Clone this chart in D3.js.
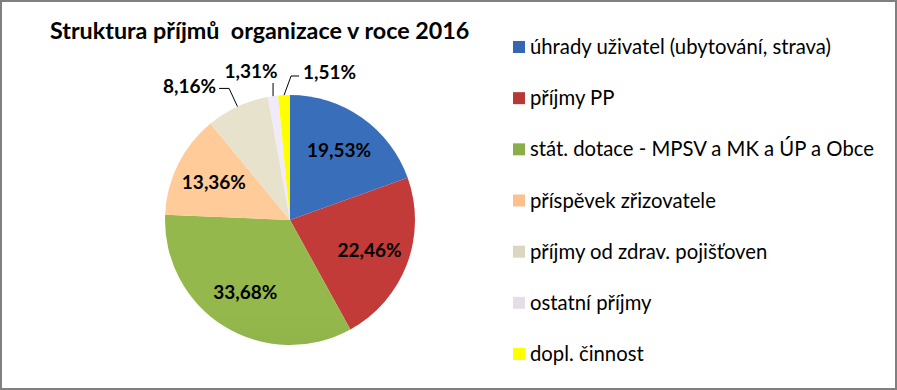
<!DOCTYPE html>
<html>
<head>
<meta charset="utf-8">
<script src="https://cdn.jsdelivr.net/npm/d3@7"></script>
<style>
  html, body { margin: 0; padding: 0; background: #fff; }
  svg { display: block; font-family: Lato, "Open Sans", sans-serif; }
</style>
</head>
<body>
<div id="chart"></div>
<script>
// kategorie a hodnoty (v %), v pořadí po směru hodinových ručiček od 12 hodin
const categories = [
  "úhrady uživatel (ubytování, strava)",
  "příjmy PP",
  "stát. dotace - MPSV a MK a ÚP a Obce",
  "příspěvek zřizovatele",
  "příjmy od zdrav. pojišťoven",
  "ostatní příjmy",
  "dopl. činnost"
];
const values = [19.53, 22.46, 33.68, 13.36, 8.16, 1.31, 1.51];
const colors = ["#3568B0", "#B83835", "#8CAE48", "#FAC090", "#DBD6C0", "#E4DEEB", "#FFFF00"];
// kde je popisek: uvnitř, vlevo, nahoře, vpravo
const labelPlace = ["in", "in", "in", "in", "left", "top", "right"];

const width = 897, height = 390;
const cx = 290, cy = 220, R = 125;

const svg = d3.select("#chart").append("svg")
  .attr("width", width)
  .attr("height", height);

// rámeček
svg.append("rect")
  .attr("x", 1).attr("y", 1)
  .attr("width", width - 2).attr("height", height - 2)
  .attr("fill", "#fff")
  .attr("stroke", "#808080")
  .attr("stroke-width", 2);

// titulek
svg.append("text")
  .attr("x", 50).attr("y", 39)
  .attr("font-size", 23.3)
  .attr("font-weight", "bold")
  .attr("fill", "#000")
  .style("white-space", "pre")
  .text("Struktura příjmů  organizace v roce 2016");

// gradienty jako v Excelu
const defs = svg.append("defs");
colors.forEach((c, i) => {
  const g = defs.append("linearGradient")
    .attr("id", "grad" + i)
    .attr("gradientUnits", "userSpaceOnUse")
    .attr("x1", 0).attr("y1", cy - R)
    .attr("x2", 0).attr("y2", cy + R);
  g.append("stop").attr("offset", "0%").attr("stop-color", d3.color(c).brighter(0.15));
  g.append("stop").attr("offset", "100%").attr("stop-color", d3.color(c).darker(0.35));
});

const pie = d3.pie().sort(null).value(d => d)(values);
const arc = d3.arc().innerRadius(0).outerRadius(R);
const labelArc = d3.arc().innerRadius(85).outerRadius(85);

const g = svg.append("g").attr("transform", `translate(${cx},${cy})`);

g.selectAll("path")
  .data(pie)
  .join("path")
  .attr("d", arc)
  .attr("fill", (d, i) => i === 6 ? colors[i] : `url(#grad${i})`);

const fmt = v => v.toFixed(2).replace(".", ",") + "%";

// popisky uvnitř
g.selectAll("text.inside")
  .data(pie.filter((d, i) => labelPlace[i] === "in"))
  .join("text")
  .attr("class", "inside")
  .attr("transform", d => `translate(${labelArc.centroid(d)})`)
  .attr("text-anchor", "middle")
  .attr("dy", "0.35em")
  .attr("font-size", 19)
  .attr("font-weight", "bold")
  .attr("fill", "#000")
  .text(d => fmt(d.data));

// popisky venku s vodicí čarou
const outside = pie.map((d, i) => ({ d, place: labelPlace[i] })).filter(o => o.place !== "in");
const polar = (a, r) => [Math.sin(a) * r, -Math.cos(a) * r];

outside.forEach(o => {
  const a = (o.d.startAngle + o.d.endAngle) / 2;
  const p0 = polar(a, R);
  let pts, tx, ty, anchor;
  if (o.place === "top") {
    const p1 = [p0[0], -137];
    pts = [p0, p1];
    tx = p0[0] - 22; ty = -149;
    anchor = "middle";
  } else if (o.place === "left") {
    const p1 = polar(a, 145);
    const p2 = [p1[0] - 10, p1[1]];
    pts = [p0, p1, p2];
    tx = p2[0] - 3; ty = p2[1] - 2;
    anchor = "end";
  } else {
    const p1 = [p0[0] + 7, -144];
    const p2 = [p1[0] + 8, p1[1]];
    pts = [p0, p1, p2];
    tx = p2[0] + 4; ty = p2[1] - 4;
    anchor = "start";
  }
  g.append("path")
    .attr("d", d3.line()(pts))
    .attr("fill", "none")
    .attr("stroke", "#000")
    .attr("stroke-width", 1);
  g.append("text")
    .attr("x", tx).attr("y", ty)
    .attr("dy", "0.35em")
    .attr("text-anchor", anchor)
    .attr("font-size", 19)
    .attr("font-weight", "bold")
    .attr("fill", "#000")
    .text(fmt(o.d.data));
});

// legenda
const legendY = d3.scalePoint()
  .domain(categories)
  .range([47, 354]);

const legend = svg.append("g")
  .selectAll("g")
  .data(categories)
  .join("g")
  .attr("transform", d => `translate(513,${legendY(d)})`);

legend.append("rect")
  .attr("x", 0).attr("y", -6)
  .attr("width", 12).attr("height", 12)
  .attr("fill", (d, i) => colors[i]);

legend.append("text")
  .attr("x", 17)
  .attr("dy", "0.35em")
  .attr("font-size", 20.3)
  .attr("fill", "#000")
  .text(d => d);
</script>
</body>
</html>
